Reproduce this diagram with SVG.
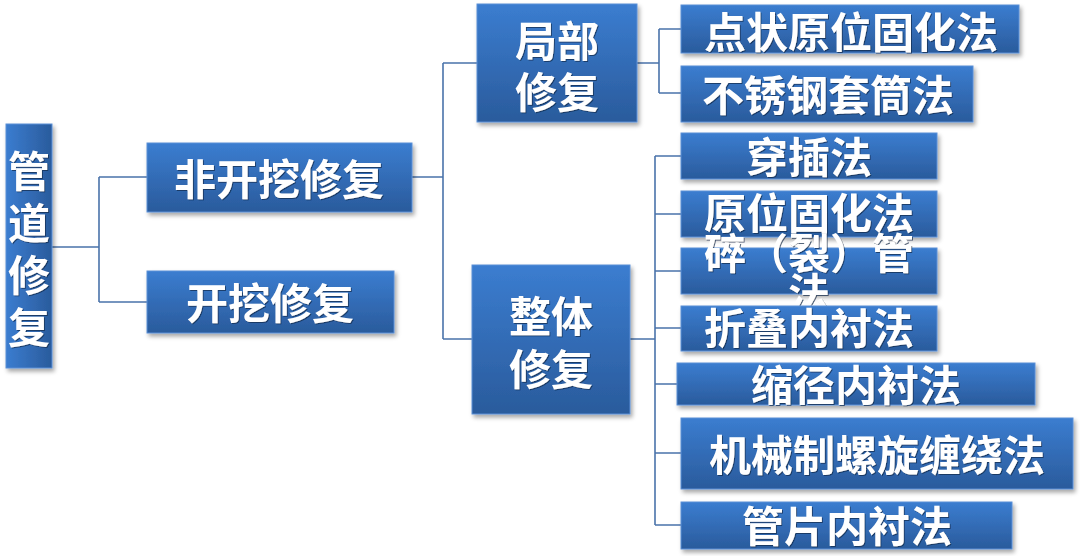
<svg xmlns="http://www.w3.org/2000/svg" width="1080" height="556" viewBox="0 0 1080 556">
<defs>
<linearGradient id="g" x1="0" y1="0" x2="0" y2="1">
<stop offset="0" stop-color="#3b7dd0"/>
<stop offset="1" stop-color="#2a5b9c"/>
</linearGradient>
<linearGradient id="gh" x1="0" y1="0" x2="1" y2="0">
<stop offset="0" stop-color="#3b7dd0"/>
<stop offset="1" stop-color="#2a5b9c"/>
</linearGradient>
<filter id="sh" x="-10%" y="-10%" width="130%" height="140%">
<feDropShadow dx="2" dy="3" stdDeviation="2" flood-color="#000" flood-opacity="0.35"/>
</filter>
<filter id="ts" x="-10%" y="-10%" width="120%" height="130%">
<feDropShadow dx="1" dy="1" stdDeviation="0.6" flood-color="#10264a" flood-opacity="0.7"/>
</filter>
</defs>
<style>
.box{fill:url(#g);stroke:#5b8fd6;stroke-width:1;filter:url(#sh)}
.vbox{fill:url(#gh);stroke:#5b8fd6;stroke-width:1;filter:url(#sh)}
.t{font-family:"Noto Sans CJK SC","Noto Sans CJK JP",sans-serif;font-weight:bold;font-size:42px;fill:#fff;text-anchor:middle;dominant-baseline:central;filter:url(#ts)}
.c{fill:none;stroke:#4a73aa;stroke-width:1.6}
</style>
<g id="connectors" class="c">
<path d="M52 247H99M99 177V302M99 177H147M99 302H147"/>
<path d="M412 177H443M443 63V339M443 63H477M443 339H472"/>
<path d="M637 63H659M659 29V93M659 29H681M659 93H681"/>
<path d="M630 339H655M655 156V525M655 156H681M655 214H681M655 271H681M655 328H681M655 384H677M655 453H681M655 525H681"/>
</g>
<g id="root">
<rect class="vbox" x="6" y="124" width="46" height="244"/>
<text class="t" x="29" y="168">管</text>
<text class="t" x="29" y="220">道</text>
<text class="t" x="29" y="272">修</text>
<text class="t" x="29" y="324">复</text>
</g>
<g id="n-feikaiwa">
<rect class="box" x="147" y="143" width="265" height="69"/>
<text class="t" x="279" y="176">非开挖修复</text>
</g>
<g id="n-kaiwa">
<rect class="box" x="147" y="271" width="247" height="62"/>
<text class="t" x="270" y="300">开挖修复</text>
</g>
<g id="n-jubu">
<rect class="box" x="477" y="4" width="160" height="118"/>
<text class="t" x="557" y="38">局部</text>
<text class="t" x="557" y="89">修复</text>
</g>
<g id="n-zhengti">
<rect class="box" x="472" y="265" width="158" height="149"/>
<text class="t" x="551" y="313">整体</text>
<text class="t" x="551" y="366">修复</text>
</g>
<g id="n-dianzhuang">
<rect class="box" x="681" y="5" width="338" height="48"/>
<text class="t" x="851" y="29">点状原位固化法</text>
</g>
<g id="n-buxiugang">
<rect class="box" x="681" y="66" width="292" height="56"/>
<text class="t" x="828" y="92">不锈钢套筒法</text>
</g>
<g id="n-chuancha">
<rect class="box" x="681" y="133" width="256" height="46"/>
<text class="t" x="809" y="154">穿插法</text>
</g>
<g id="n-yuanwei">
<rect class="box" x="681" y="191" width="256" height="46"/>
<text class="t" x="809" y="210">原位固化法</text>
</g>
<g id="n-suilie">
<rect class="box" x="681" y="248" width="256" height="46"/>
<text class="t" x="809" y="250">碎（裂）管</text>
<text class="t" x="809" y="290">法</text>
</g>
<g id="n-zhedie">
<rect class="box" x="681" y="306" width="256" height="45"/>
<text class="t" x="809" y="325">折叠内衬法</text>
</g>
<g id="n-suojing">
<rect class="box" x="677" y="363" width="358" height="42"/>
<text class="t" x="856" y="382">缩径内衬法</text>
</g>
<g id="n-jixie">
<rect class="box" x="681" y="418" width="392" height="71"/>
<text class="t" x="877" y="452">机械制螺旋缠绕法</text>
</g>
<g id="n-guanpian">
<rect class="box" x="681" y="502" width="331" height="47"/>
<text class="t" x="847" y="523">管片内衬法</text>
</g>
</svg>
